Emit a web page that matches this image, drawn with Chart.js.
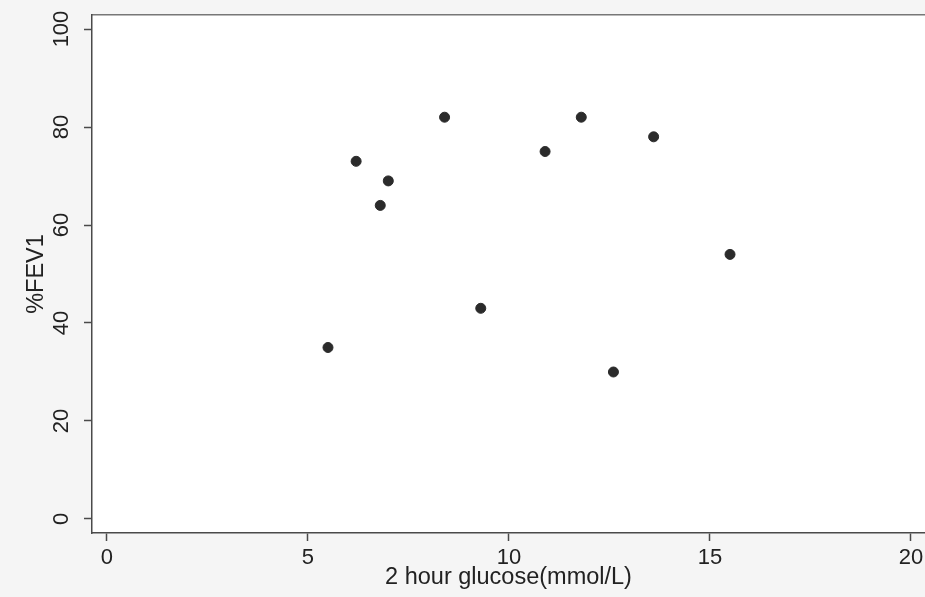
<!DOCTYPE html>
<html>
<head>
<meta charset="utf-8">
<script src="https://cdn.jsdelivr.net/npm/chart.js@4"></script>
<style>
  body { margin: 0; background: #f5f5f5; }
  #chart { display: block; }
</style>
</head>
<body>
<canvas id="chart" width="925" height="597"></canvas>
<script>
// values
var glucose = [5.5, 6.2, 6.8, 7.0, 8.4, 9.3, 10.9, 11.8, 12.6, 13.6, 15.5];
var fev1 = [35, 73, 64, 69, 82, 43, 75, 82, 30, 78, 54];
var xTicks = [0, 5, 10, 15, 20];
var yTicks = [0, 20, 40, 60, 80, 100];

var axisColor = '#4a4a4a';
var font = { family: 'Arial, "Liberation Sans", sans-serif', size: 22 };
var titleFont = { family: 'Arial, "Liberation Sans", sans-serif', size: 23.5 };

var points = glucose.map(function (g, i) { return { x: g, y: fev1[i] }; });

// white plot region on a light grey page
var plotBg = {
  id: 'plotBg',
  beforeDraw: function (chart) {
    var a = chart.chartArea, ctx = chart.ctx;
    ctx.save();
    ctx.fillStyle = '#ffffff';
    ctx.fillRect(a.left, a.top, a.right - a.left, a.bottom - a.top);
    ctx.restore();
  }
};

// keep the plot frame where it is in the picture
function noPad(s) { s.paddingLeft = 0; s.paddingRight = 0; s.paddingTop = 0; s.paddingBottom = 0; }

var ctx = document.getElementById('chart').getContext('2d');
var chart = new Chart(ctx, {
  type: 'scatter',
  data: {
    datasets: [{
      data: points,
      backgroundColor: '#2b2b2b',
      borderColor: '#2b2b2b',
      pointRadius: 5,
      pointHoverRadius: 5
    }]
  },
  options: {
    responsive: false,
    animation: false,
    layout: { autoPadding: false, padding: { top: 15, right: 0, left: 0, bottom: 0 } },
    plugins: { legend: { display: false }, tooltip: { enabled: false } },
    scales: {
      x: {
        type: 'linear',
        position: 'bottom',
        min: -0.37,
        max: 20.35,
        afterBuildTicks: function (s) { s.ticks = xTicks.map(function (v) { return { value: v }; }); },
        afterFit: function (s) { s.height = 64; noPad(s); },
        ticks: { color: '#222', font: font, padding: 4, maxRotation: 0, autoSkip: false },
        grid: { drawOnChartArea: false, drawTicks: true, tickLength: 8, tickColor: axisColor, tickWidth: 1.5 },
        border: { color: axisColor, width: 1.5 },
        title: {
          display: true,
          text: '2 hour glucose(mmol/L)',
          color: '#222',
          font: titleFont,
          padding: { top: 0, bottom: 5 }
        }
      },
      x2: {
        type: 'linear',
        position: 'top',
        afterFit: function (s) { s.height = 0; noPad(s); },
        ticks: { display: false },
        grid: { drawOnChartArea: false, drawTicks: false },
        border: { color: '#777777', width: 1.5 }
      },
      y: {
        type: 'linear',
        min: -2.86,
        max: 102.86,
        afterBuildTicks: function (s) { s.ticks = yTicks.map(function (v) { return { value: v }; }); },
        afterFit: function (s) { s.width = 92; noPad(s); },
        ticks: { color: '#222', font: font, padding: 4, minRotation: 90, maxRotation: 90, crossAlign: 'center', autoSkip: false },
        grid: { drawOnChartArea: false, drawTicks: true, tickLength: 8, tickColor: axisColor, tickWidth: 1.5 },
        border: { color: axisColor, width: 1.5 },
        title: {
          display: true,
          text: '%FEV1',
          color: '#222',
          font: titleFont,
          padding: { top: 22, bottom: 0 }
        }
      }
    }
  },
  plugins: [plotBg]
});
</script>
</body>
</html>
